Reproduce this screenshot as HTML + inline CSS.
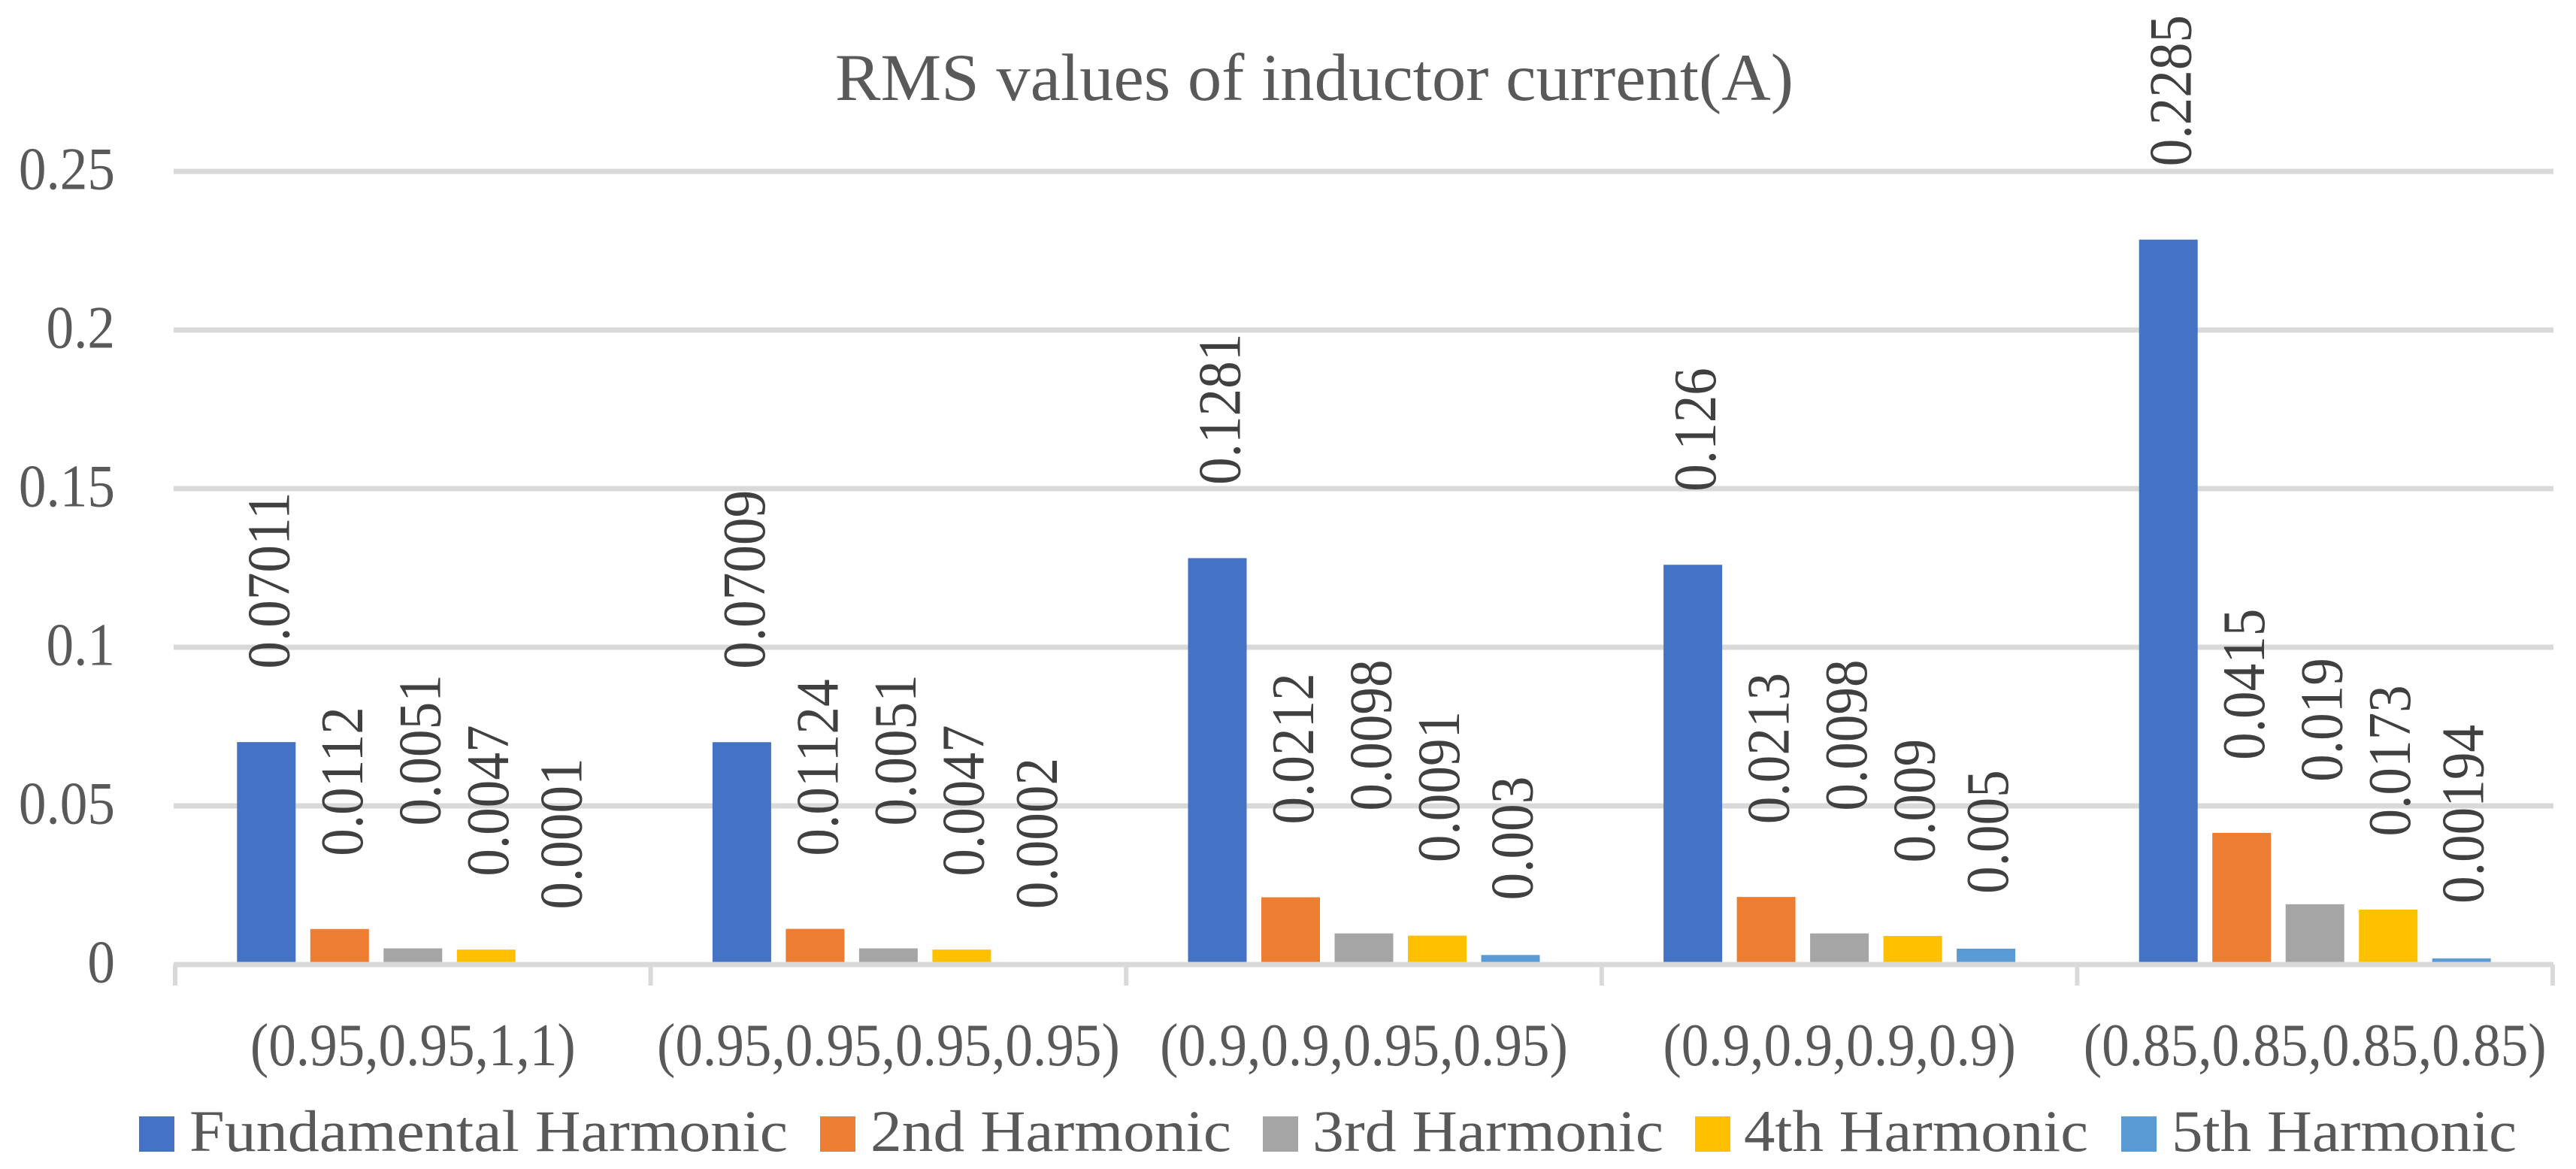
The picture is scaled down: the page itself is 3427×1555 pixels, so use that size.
<!DOCTYPE html>
<html lang="en">
<head>
<meta charset="utf-8">
<title>RMS values of inductor current(A)</title>
<style>
  html, body { margin: 0; padding: 0; background: #ffffff; }
  svg { display: block; }
  text { font-family: "Liberation Serif", serif; }
</style>
</head>
<body>
<svg id="chart" xmlns="http://www.w3.org/2000/svg" width="3427" height="1555" viewBox="0 0 3427 1555">
  <rect x="0" y="0" width="3427" height="1555" fill="#ffffff"/>
  <g id="grid"></g>
  <g id="bars"></g>
  <g id="axis"></g>
  <g id="yticks"></g>
  <g id="xlabels"></g>
  <g id="labels"></g>
  <text x="1111" y="133" font-size="89" fill="#595959" textLength="1275" lengthAdjust="spacingAndGlyphs">RMS values of inductor current(A)</text>
  <g font-size="78" fill="#595959">
    <rect x="185" y="1485" width="47" height="47" fill="#4472C4"/>
    <text x="252" y="1531" textLength="796" lengthAdjust="spacingAndGlyphs">Fundamental Harmonic</text>
    <rect x="1091" y="1485" width="47" height="47" fill="#ED7D31"/>
    <text x="1158" y="1531" textLength="480" lengthAdjust="spacingAndGlyphs">2nd Harmonic</text>
    <rect x="1680" y="1485" width="47" height="47" fill="#A5A5A5"/>
    <text x="1746" y="1531" textLength="467" lengthAdjust="spacingAndGlyphs">3rd Harmonic</text>
    <rect x="2255" y="1485" width="47" height="47" fill="#FFC000"/>
    <text x="2320" y="1531" textLength="458" lengthAdjust="spacingAndGlyphs">4th Harmonic</text>
    <rect x="2822" y="1485" width="47" height="47" fill="#5B9BD5"/>
    <text x="2889" y="1531" textLength="459" lengthAdjust="spacingAndGlyphs">5th Harmonic</text>
  </g>
</svg>
<script>
const categories = ["(0.95,0.95,1,1)", "(0.95,0.95,0.95,0.95)", "(0.9,0.9,0.95,0.95)", "(0.9,0.9,0.9,0.9)", "(0.85,0.85,0.85,0.85)"];
const fundamentalHarmonic = [0.07011, 0.07009, 0.1281, 0.126, 0.2285];
const secondHarmonic = [0.0112, 0.01124, 0.0212, 0.0213, 0.0415];
const thirdHarmonic = [0.0051, 0.0051, 0.0098, 0.0098, 0.019];
const fourthHarmonic = [0.0047, 0.0047, 0.0091, 0.009, 0.0173];
const fifthHarmonic = [0.0001, 0.0002, 0.003, 0.005, 0.00194];
const yTickValues = [0, 0.05, 0.1, 0.15, 0.2, 0.25];
const yTickLabels = ["0", "0.05", "0.1", "0.15", "0.2", "0.25"];

const SVG_NS = "http://www.w3.org/2000/svg";
const allSeries = [fundamentalHarmonic, secondHarmonic, thirdHarmonic, fourthHarmonic, fifthHarmonic];
const seriesKeys = ["fundamental", "2nd", "3rd", "4th", "5th"];
const seriesColors = ["#4472C4", "#ED7D31", "#A5A5A5", "#FFC000", "#5B9BD5"];

// Layout: label offsets for each series relative to its bar
const seriesLabelShift = [30, 30, 36, 29, 29];
const seriesLabelGap = [97.5, 97, 163, 97.5, 73];

const plotLeft = 233, plotRight = 3396, zeroY = 1283, pixelsPerUnit = 4220;
const barWidth = 78, barPitch = 97.5, textSquash = 0.915;

function yScale(v) { return zeroY - v * pixelsPerUnit; }
function bandWidth() { return (plotRight - plotLeft) / categories.length; }
function bandEdge(i) { return plotLeft + i * bandWidth(); }
function bandCentre(i) { return plotLeft + (i + 0.5) * bandWidth(); }
function barCentre(g, s) { return bandCentre(g) + (s - (allSeries.length - 1) / 2) * barPitch; }

function make(tag, attrs, parent) {
  const el = document.createElementNS(SVG_NS, tag);
  Object.keys(attrs).forEach(function (k) { el.setAttribute(k, attrs[k]); });
  parent.appendChild(el);
  return el;
}

const gridGroup = document.getElementById("grid");
const barsGroup = document.getElementById("bars");
const axisGroup = document.getElementById("axis");
const yTickGroup = document.getElementById("yticks");
const xLabelGroup = document.getElementById("xlabels");
const labelGroup = document.getElementById("labels");

yTickValues.forEach(function (v, i) {
  if (v !== 0) {
    const line = make("line", { x1: plotLeft - 2, x2: plotRight + 1, y1: yScale(v), y2: yScale(v), stroke: "#D9D9D9", "stroke-width": 7 }, gridGroup);
    
    
  }
  const t = make("text", { transform: "translate(153," + (yScale(v) + 23.5) + ") scale(" + textSquash + ",1)", "text-anchor": "end", "font-size": 80, fill: "#595959" }, yTickGroup);
  t.textContent = yTickLabels[i];
  
  
});

allSeries.forEach(function (values, s) {
  values.forEach(function (v, g) {
    const cx = barCentre(g, s);
    const top = yScale(v);
    const bar = make("rect", { x: cx - barWidth / 2, y: top, width: barWidth, height: zeroY - top, fill: seriesColors[s] }, barsGroup);
    
    

    const lbl = make("text", { transform: "translate(" + (cx + seriesLabelShift[s]) + "," + (top - seriesLabelGap[s]) + ") rotate(-90) scale(" + textSquash + ",1)", "font-size": 80, fill: "#404040" }, labelGroup);
    lbl.textContent = String(v);
    
    
  });
});

const baseline = make("line", { x1: plotLeft - 2, x2: plotRight + 1, y1: zeroY, y2: zeroY, stroke: "#D9D9D9", "stroke-width": 7 }, axisGroup);



for (let i = 0; i <= categories.length; i++) {
  const tick = make("line", { x1: bandEdge(i), x2: bandEdge(i), y1: zeroY, y2: 1311, stroke: "#D9D9D9", "stroke-width": 6 }, axisGroup);
  
  
}

categories.forEach(function (c, i) {
  const t = make("text", { transform: "translate(" + bandCentre(i) + ",1417) scale(" + textSquash + ",1)", "text-anchor": "middle", "font-size": 80, fill: "#595959" }, xLabelGroup);
  t.textContent = c;
  
  
});
</script>
</body>
</html>
